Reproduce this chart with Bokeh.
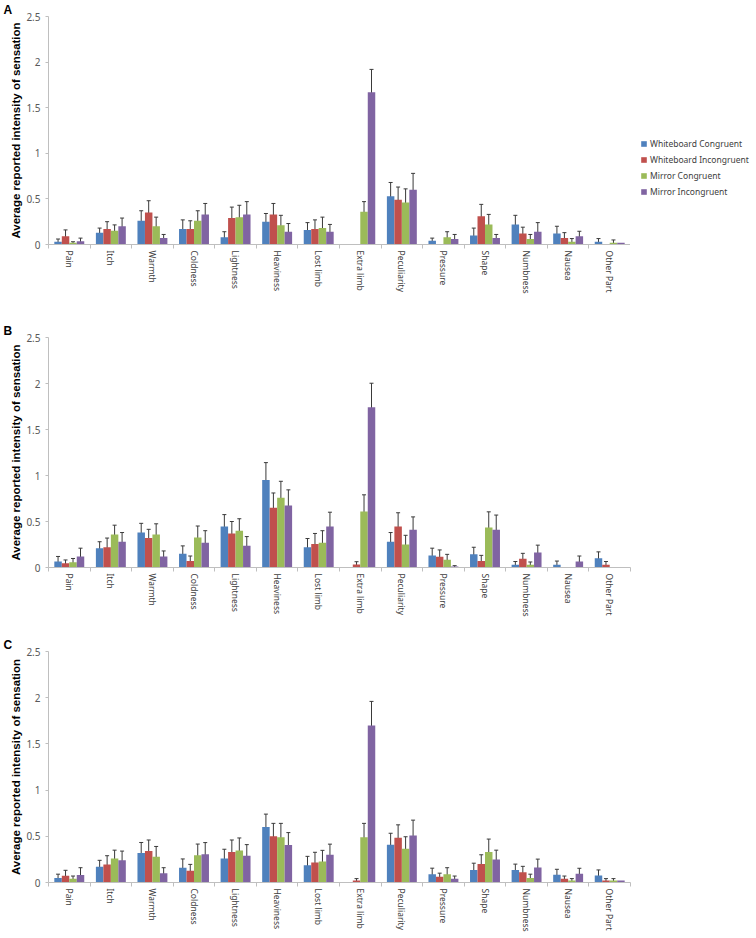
import numpy as np
from bokeh.plotting import figure
from bokeh.models import (ColumnDataSource, Range1d, FixedTicker, Whisker, TeeHead,
                          Legend, LegendItem)
from bokeh.layouts import column, row
from bokeh.embed import file_html
from bokeh.resources import INLINE

categories = ["Pain", "Itch", "Warmth", "Coldness", "Lightness", "Heaviness", "Lost limb",
              "Extra limb", "Peculiarity", "Pressure", "Shape", "Numbness", "Nausea", "Other Part"]
series_names = ["Whiteboard Congruent", "Whiteboard Incongruent", "Mirror Congruent", "Mirror Incongruent"]
series_colors = ["#4F81BD", "#C0504D", "#9BBB59", "#8064A2"]
y_ticks = [0, 0.5, 1, 1.5, 2, 2.5]
y_tick_labels = ["0", "0.5", "1", "1.5", "2", "2.5"]

# Panel A
a_wc = [0.03, 0.13, 0.26, 0.17, 0.08, 0.25, 0.16, 0.0, 0.53, 0.04, 0.10, 0.22, 0.12, 0.03]
a_wc_err = [0.03, 0.05, 0.11, 0.10, 0.06, 0.09, 0.08, 0.0, 0.15, 0.03, 0.08, 0.10, 0.08, 0.035]
a_wi = [0.09, 0.17, 0.35, 0.17, 0.29, 0.33, 0.17, 0.0, 0.49, 0.0, 0.31, 0.12, 0.07, 0.0]
a_wi_err = [0.07, 0.08, 0.13, 0.09, 0.12, 0.12, 0.10, 0.0, 0.14, 0.0, 0.13, 0.07, 0.06, 0.0]
a_mc = [0.02, 0.15, 0.20, 0.26, 0.30, 0.21, 0.18, 0.36, 0.46, 0.08, 0.22, 0.06, 0.03, 0.02]
a_mc_err = [0.01, 0.065, 0.10, 0.11, 0.13, 0.11, 0.12, 0.11, 0.15, 0.06, 0.11, 0.05, 0.035, 0.03]
a_mi = [0.035, 0.20, 0.07, 0.33, 0.33, 0.14, 0.14, 1.67, 0.60, 0.06, 0.07, 0.14, 0.09, 0.02]
a_mi_err = [0.035, 0.09, 0.04, 0.12, 0.14, 0.09, 0.08, 0.25, 0.18, 0.05, 0.04, 0.10, 0.055, 0.0]

# Panel B
b_wc = [0.065, 0.21, 0.38, 0.15, 0.445, 0.95, 0.22, 0.0, 0.28, 0.13, 0.145, 0.03, 0.03, 0.10]
b_wc_err = [0.055, 0.07, 0.10, 0.085, 0.13, 0.19, 0.095, 0.0, 0.10, 0.08, 0.075, 0.035, 0.04, 0.07]
b_wi = [0.047, 0.22, 0.32, 0.07, 0.37, 0.65, 0.255, 0.033, 0.445, 0.116, 0.072, 0.094, 0.0, 0.03]
b_wi_err = [0.035, 0.10, 0.095, 0.055, 0.13, 0.16, 0.115, 0.03, 0.15, 0.075, 0.06, 0.06, 0.0, 0.035]
b_mc = [0.058, 0.36, 0.36, 0.326, 0.40, 0.757, 0.27, 0.61, 0.25, 0.083, 0.435, 0.03, 0.0, 0.0]
b_mc_err = [0.04, 0.10, 0.115, 0.125, 0.13, 0.18, 0.13, 0.18, 0.10, 0.06, 0.17, 0.03, 0.0, 0.0]
b_mi = [0.12, 0.28, 0.12, 0.27, 0.236, 0.674, 0.446, 1.743, 0.41, 0.01, 0.41, 0.163, 0.065, 0.0]
b_mi_err = [0.09, 0.10, 0.06, 0.13, 0.10, 0.17, 0.155, 0.26, 0.14, 0.01, 0.16, 0.08, 0.06, 0.0]

# Panel C
c_wc = [0.05, 0.17, 0.318, 0.16, 0.26, 0.60, 0.188, 0.0, 0.408, 0.09, 0.134, 0.134, 0.083, 0.076]
c_wc_err = [0.04, 0.07, 0.115, 0.095, 0.10, 0.14, 0.095, 0.0, 0.125, 0.065, 0.075, 0.065, 0.06, 0.06]
c_wi = [0.072, 0.195, 0.34, 0.126, 0.33, 0.50, 0.217, 0.022, 0.484, 0.061, 0.20, 0.11, 0.04, 0.022]
c_wi_err = [0.06, 0.095, 0.12, 0.07, 0.13, 0.14, 0.11, 0.02, 0.14, 0.04, 0.10, 0.065, 0.03, 0.02]
c_mc = [0.04, 0.26, 0.28, 0.296, 0.347, 0.49, 0.228, 0.49, 0.365, 0.09, 0.33, 0.05, 0.022, 0.022]
c_mc_err = [0.03, 0.09, 0.11, 0.12, 0.135, 0.15, 0.12, 0.15, 0.13, 0.07, 0.14, 0.04, 0.02, 0.02]
c_mi = [0.08, 0.24, 0.10, 0.307, 0.29, 0.405, 0.30, 1.70, 0.51, 0.04, 0.25, 0.163, 0.094, 0.022]
c_mi_err = [0.08, 0.10, 0.06, 0.125, 0.12, 0.135, 0.115, 0.26, 0.165, 0.03, 0.10, 0.09, 0.06, 0.0]

panels = [
    ("A", [a_wc, a_wi, a_mc, a_mi], [a_wc_err, a_wi_err, a_mc_err, a_mi_err]),
    ("B", [b_wc, b_wi, b_mc, b_mi], [b_wc_err, b_wi_err, b_mc_err, b_mi_err]),
    ("C", [c_wc, c_wi, c_mc, c_mi], [c_wc_err, c_wi_err, c_mc_err, c_mi_err]),
]

# per panel: figure width, figure height, border top, border bottom, border right
geom = [(630, 306, 0, 62, 0), (752, 321, 31, 60, 119), (752, 309, 24, 54, 122)]
N = len(categories)
BAR_W = 0.18
offsets = [-1.5 * BAR_W, -0.5 * BAR_W, 0.5 * BAR_W, 1.5 * BAR_W]
TICK_FONT = "Noto Sans"
AXIS_COL = "#BFBFBF"
ERR_COL = "#3a3a3a"

figs = []
for idx, (letter, means, errs) in enumerate(panels):
    w_, h, bt, bb, br = geom[idx]
    p = figure(width=w_, height=h, output_backend="svg", toolbar_location=None,
               x_range=Range1d(0, N), y_range=Range1d(0, 2.5),
               min_border_left=48, min_border_right=br, min_border_top=bt,
               min_border_bottom=bb, tools="", title=letter)
    p.outline_line_color = None
    p.xgrid.visible = False
    p.ygrid.visible = False
    p.title.text_font = "Liberation Sans"
    p.title.text_font_style = "bold"
    p.title.text_font_size = "12px"
    p.title.text_color = "#000000"
    p.title.align = "left"
    p.title.offset = -45
    p.title.standoff = 0

    for s in range(4):
        xs = [i + 0.5 + offsets[s] for i in range(N)]
        src = ColumnDataSource(dict(x=xs, top=means[s]))
        p.vbar(x="x", top="top", width=BAR_W, bottom=0, source=src,
               fill_color=series_colors[s], line_color=None)
        ex, up, lw = [], [], []
        for i in range(N):
            if errs[s][i] > 0:
                ex.append(xs[i])
                up.append(means[s][i] + errs[s][i])
                lw.append(max(means[s][i] - errs[s][i], 0))
        esrc = ColumnDataSource(dict(x=ex, upper=up, lower=lw))
        p.add_layout(Whisker(base="x", upper="upper", lower="lower", source=esrc,
                             line_color=ERR_COL, line_width=1,
                             upper_head=TeeHead(size=4, line_color=ERR_COL, line_width=1),
                             lower_head=TeeHead(size=4, line_color=ERR_COL, line_width=1)))

    xa = p.xaxis[0]
    centers = [i + 0.5 for i in range(N)]
    xa.ticker = FixedTicker(ticks=centers, minor_ticks=list(range(N + 1)))
    xa.major_label_overrides = {c: n for c, n in zip(centers, categories)}
    xa.major_label_orientation = "vertical"
    xa.major_tick_out = 0
    xa.major_tick_in = 0
    xa.minor_tick_out = 4
    xa.minor_tick_in = 0
    xa.minor_tick_line_color = AXIS_COL
    xa.axis_line_color = AXIS_COL
    xa.major_label_text_font = TICK_FONT
    xa.major_label_text_font_size = "8.5px"
    xa.major_label_text_color = "#404040"
    xa.major_label_standoff = 2

    ya = p.yaxis[0]
    ya.ticker = FixedTicker(ticks=y_ticks, minor_ticks=[])
    ya.major_label_overrides = {t: l for t, l in zip(y_ticks, y_tick_labels)}
    ya.major_tick_out = 3
    ya.major_tick_in = 0
    ya.major_tick_line_color = AXIS_COL
    ya.axis_line_color = AXIS_COL
    ya.major_label_text_font = TICK_FONT
    ya.major_label_text_font_size = "10px"
    ya.major_label_text_color = "#595959"
    ya.major_label_standoff = 5
    ya.axis_label = "Average reported intensity of sensation"
    ya.axis_label_text_font = "Liberation Sans"
    ya.axis_label_text_font_style = "bold"
    ya.axis_label_text_font_size = "11.5px"
    ya.axis_label_text_color = "#000000"
    ya.axis_label_standoff = 1
    figs.append(p)

# legend panel to the right of panel A (its frame is aligned with panel A's frame)
pl = figure(width=122, height=306, output_backend="svg", toolbar_location=None, tools="",
            x_range=Range1d(0, 1), y_range=Range1d(0, 1),
            x_axis_location=None, y_axis_location=None,
            min_border_left=0, min_border_top=0, min_border_right=0, min_border_bottom=0)
pl.outline_line_color = None
pl.xgrid.visible = False
pl.ygrid.visible = False
leg_renderers = []
for s in range(4):
    r = pl.vbar(x=np.array([np.nan]), top=np.array([np.nan]), width=0.1, bottom=0,
                fill_color=series_colors[s], line_color=None)
    leg_renderers.append(r)
items = [LegendItem(label=series_names[s], renderers=[leg_renderers[s]]) for s in range(4)]
leg = Legend(items=items, location=(10, 47), orientation="vertical",
             label_text_font=TICK_FONT, label_text_font_size="8.5px",
             label_text_color="#404040", glyph_width=7, glyph_height=7,
             label_standoff=3, spacing=5, padding=0, margin=0,
             border_line_color=None, background_fill_alpha=0,
             label_height=10)
pl.add_layout(leg)

layout = column(row(figs[0], pl, spacing=0), figs[1], figs[2], spacing=0)
open("out.html", "w").write(file_html(layout, INLINE))
